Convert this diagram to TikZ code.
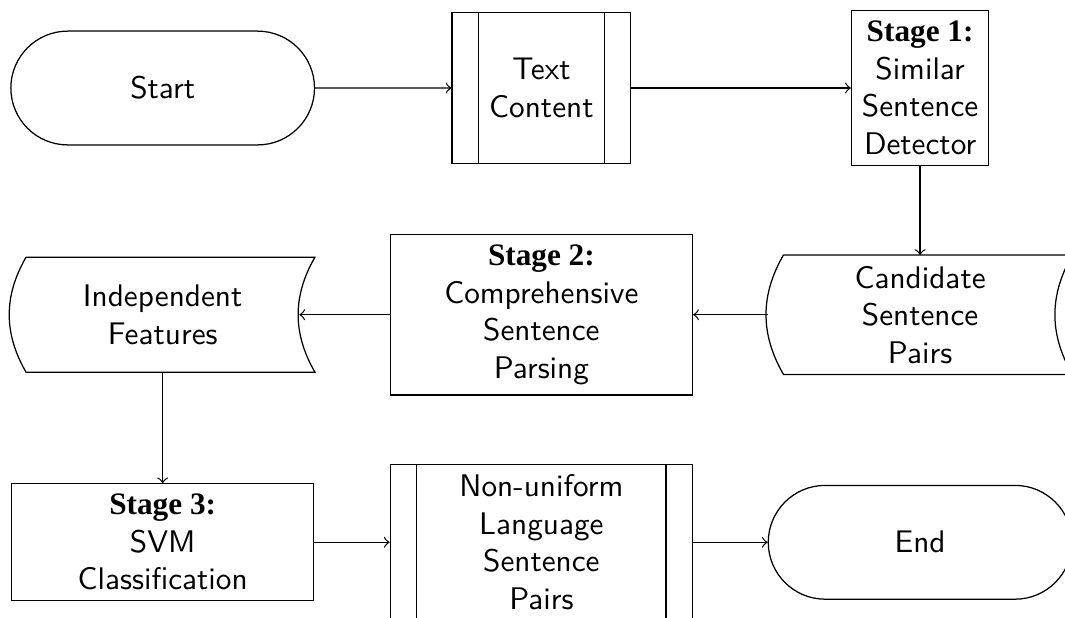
\documentclass[tikz,border=0pt]{standalone}
\usepackage{fontspec}
\newfontfamily\stagefont{Liberation Serif}
\usetikzlibrary{shapes.misc}

\newcommand{\stagelabel}[1]{{\stagefont\bfseries Stage #1:}}
% stored data outline round a (plain) node
\newcommand{\storeddata}[1]{\draw (#1.north west) -- ([xshift=5pt]#1.north east)
    to[bend right=30] ([xshift=5pt]#1.south east) -- (#1.south west)
    to[bend left=30] (#1.north west);}

\begin{document}
\begin{tikzpicture}[
        terminal/.style={draw, rounded rectangle, minimum width=3.65cm, minimum height=1.28cm, font=\sffamily},
        process/.style={draw, rectangle, align=center, font=\sffamily},
        predproc/.style={draw, rectangle, align=center, font=\sffamily, minimum height=1.7cm,
            path picture={
                \draw ([xshift=8.5pt]path picture bounding box.north west) -- ([xshift=8.5pt]path picture bounding box.south west);
                \draw ([xshift=-8.5pt]path picture bounding box.north east) -- ([xshift=-8.5pt]path picture bounding box.south east);
            }},
        storage/.style={rectangle, align=center, font=\sffamily, minimum width=3.06cm, minimum height=1.28cm},
    ]
        \clip (0,0) rectangle (11.98,-6.95);

        % First row
        \node[terminal] (start) at (1.83,-0.99) {Start};
        \node[predproc, minimum width=2.01cm] (text) at (6.09,-0.99) {Text\\Content};
        \node[process] (stage1) at (10.35,-0.99) {\stagelabel{1}\\Similar\\Sentence\\Detector};

        % Second row
        \node[storage] (cand) at (10.35,-3.54) {Candidate\\Sentence\\Pairs};
        \storeddata{cand}
        \coordinate (candin) at ([xshift=-5pt]cand.west);
        \node[process, minimum width=3.4cm] (stage2) at (6.09,-3.54) {\stagelabel{2}\\Comprehensive\\Sentence\\Parsing};
        \node[storage] (feat) at (1.83,-3.54) {Independent\\Features};
        \storeddata{feat}

        % Third row
        \node[process, minimum width=3.4cm] (stage3) at (1.83,-6.1) {\stagelabel{3}\\SVM\\Classification};
        \node[predproc, minimum width=3.4cm] (pairs) at (6.09,-6.1) {Non-uniform\\Language\\Sentence\\Pairs};
        \node[terminal] (end) at (10.35,-6.1) {End};

        % Arrows
        \draw[->] (start) -- (text);
        \draw[->] (text) -- (stage1);
        \draw[->] (stage1) -- (cand);
        \draw[->] (candin) -- (stage2);
        \draw[->] (stage2) -- (feat);
        \draw[->] (feat) -- (stage3);
        \draw[->] (stage3) -- (pairs);
        \draw[->] (pairs) -- (end);

    \end{tikzpicture}
\end{document}
